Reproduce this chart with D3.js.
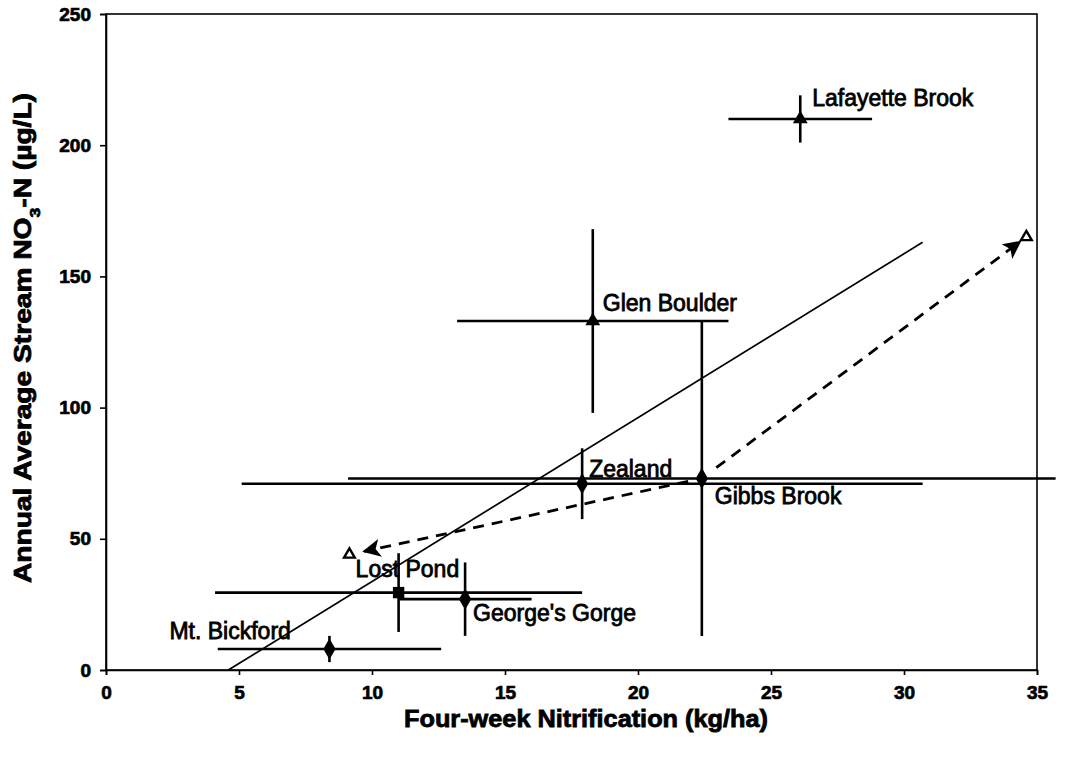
<!DOCTYPE html>
<html>
<head>
<meta charset="utf-8">
<script src="https://cdn.jsdelivr.net/npm/d3@7"></script>
<style>
  html, body { margin: 0; padding: 0; background: #fff; }
  svg { display: block; }
  text { font-family: "Liberation Sans", Arial, Helvetica, sans-serif; fill: #000; }
</style>
</head>
<body>
<svg id="chart" width="1078" height="759"></svg>
<script>
// Watershed sites: nitrification vs. stream nitrate
const sites      = ["Mt. Bickford", "Lost Pond", "George's Gorge", "Zealand", "Gibbs Brook", "Glen Boulder", "Lafayette Brook"];
const nitrif     = [8.4, 11.0, 13.5, 17.9, 22.4, 18.3, 26.1];   // kg/ha
const nitrifErr  = [4.2, 6.9, 2.5, 12.8, 13.3, 5.1, 2.7];
const nitrate    = [8, 29.5, 27, 71, 73, 133, 210];             // µg/L
const nitrateErr = [5, 15, 14, 13.5, 60, 35, 9];
const shapes     = ["diamond", "square", "diamond", "diamond", "diamond", "triangle", "triangle"];

// Linear trend endpoints
const trendX = [4.6, 30.7];
const trendY = [0, 163];

// Projected values (open triangles) reached from Gibbs Brook
const projX = [9.15, 34.6];
const projY = [44, 165];

const xTicks = [0, 5, 10, 15, 20, 25, 30, 35];
const yTicks = [0, 50, 100, 150, 200, 250];

const svg = d3.select("#chart");
const m = { left: 106, right: 1037, top: 14, bottom: 670 };

const x = d3.scaleLinear().domain([0, 35]).range([m.left, m.right]);
const y = d3.scaleLinear().domain([0, 250]).range([m.bottom, m.top]);

// Plot frame
svg.append("rect")
  .attr("x", m.left).attr("y", m.top)
  .attr("width", m.right - m.left).attr("height", m.bottom - m.top)
  .attr("fill", "none").attr("stroke", "#000").attr("stroke-width", 1.6);

// Axes
const xAxis = svg.append("g").attr("transform", `translate(0,${m.bottom})`)
  .call(d3.axisBottom(x).tickValues(xTicks).tickSize(5).tickPadding(11).tickFormat(d3.format("d")));
const yAxis = svg.append("g").attr("transform", `translate(${m.left},0)`)
  .call(d3.axisLeft(y).tickValues(yTicks).tickSize(6).tickPadding(9).tickFormat(d3.format("d")));
[xAxis, yAxis].forEach(g => {
  g.select(".domain").attr("stroke", "#000").attr("stroke-width", 1.6);
  g.selectAll(".tick line").attr("stroke", "#000").attr("stroke-width", 1.6);
  g.selectAll(".tick text")
    .style("font-family", '"Liberation Sans", Arial, sans-serif')
    .style("font-size", "19px").style("font-weight", "bold")
    .attr("fill", "#000").attr("stroke", "#000").attr("stroke-width", 0.7);
});

// Axis titles
svg.append("text")
  .attr("x", 586).attr("y", 727)
  .attr("text-anchor", "middle")
  .attr("textLength", 364).attr("lengthAdjust", "spacingAndGlyphs")
  .style("font-size", "24px").style("font-weight", "bold")
  .attr("stroke", "#000").attr("stroke-width", 0.8)
  .text("Four-week Nitrification (kg/ha)");

const yTitle = svg.append("text")
  .attr("transform", "translate(31,338) rotate(-90)")
  .attr("text-anchor", "middle")
  .attr("textLength", 490).attr("lengthAdjust", "spacingAndGlyphs")
  .style("font-size", "24px").style("font-weight", "bold")
  .attr("stroke", "#000").attr("stroke-width", 0.8);
yTitle.append("tspan").text("Annual Average Stream NO");
yTitle.append("tspan").attr("baseline-shift", "sub").style("font-size", "15px").text("3");
yTitle.append("tspan").text("-N (\u00b5g/L)");

// Trend line
svg.append("line")
  .attr("x1", x(trendX[0])).attr("y1", y(trendY[0]))
  .attr("x2", x(trendX[1])).attr("y2", y(trendY[1]))
  .attr("stroke", "#000").attr("stroke-width", 1.7);

// Arrow marker
svg.append("defs").append("marker")
  .attr("id", "arrow")
  .attr("viewBox", "0 0 10 10").attr("refX", 9).attr("refY", 5)
  .attr("markerWidth", 6.5).attr("markerHeight", 6.5).attr("markerUnits", "strokeWidth")
  .attr("orient", "auto")
  .append("path").attr("d", "M0,0 L10,5 L0,10 L2.5,5 Z").attr("fill", "#000");

// Dashed arrows from Gibbs Brook toward projected points
const gi = sites.indexOf("Gibbs Brook");
const gaps = [[14, 15], [18, 8]];
projX.forEach((px, i) => {
  const x0 = x(nitrif[gi]), y0 = y(nitrate[gi]);
  const x1 = x(px), y1 = y(projY[i]);
  const dx = x1 - x0, dy = y1 - y0, len = Math.hypot(dx, dy);
  svg.append("line")
    .attr("x1", x0 + dx / len * gaps[i][0]).attr("y1", y0 + dy / len * gaps[i][0])
    .attr("x2", x1 - dx / len * gaps[i][1]).attr("y2", y1 - dy / len * gaps[i][1])
    .attr("stroke", "#000").attr("stroke-width", 2.8)
    .attr("stroke-dasharray", "11,8")
    .attr("marker-end", "url(#arrow)");
});

// Open triangles for projected points
svg.selectAll("path.proj").data(projX).enter().append("path")
  .attr("class", "proj")
  .attr("transform", (d, i) => `translate(${x(d)},${y(projY[i])})`)
  .attr("d", d3.symbol(d3.symbolTriangle, 50)())
  .attr("fill", "#fff").attr("stroke", "#000").attr("stroke-width", 2.4);

// Error bars
const idx = d3.range(sites.length);
svg.selectAll("line.xerr").data(idx).enter().append("line")
  .attr("class", "xerr")
  .attr("x1", i => x(nitrif[i] - nitrifErr[i])).attr("x2", i => x(nitrif[i] + nitrifErr[i]))
  .attr("y1", i => y(nitrate[i])).attr("y2", i => y(nitrate[i]))
  .attr("stroke", "#000").attr("stroke-width", 2.6);
svg.selectAll("line.yerr").data(idx).enter().append("line")
  .attr("class", "yerr")
  .attr("x1", i => x(nitrif[i])).attr("x2", i => x(nitrif[i]))
  .attr("y1", i => y(nitrate[i] - nitrateErr[i])).attr("y2", i => y(nitrate[i] + nitrateErr[i]))
  .attr("stroke", "#000").attr("stroke-width", 2.6);

// Site markers
const symbolFor = { diamond: [d3.symbolDiamond, 130], square: [d3.symbolSquare, 130], triangle: [d3.symbolTriangle, 95] };
svg.selectAll("path.site").data(idx).enter().append("path")
  .attr("class", "site")
  .attr("transform", i => `translate(${x(nitrif[i])},${y(nitrate[i])})`)
  .attr("d", i => d3.symbol(symbolFor[shapes[i]][0], symbolFor[shapes[i]][1])())
  .attr("fill", "#000");

// Site labels (offsets in pixels from the marker)
const labelOffset = {
  "Mt. Bickford":    [-160, -10],
  "Lost Pond":       [-43, -16],
  "George's Gorge":  [8, 22],
  "Zealand":         [7, -7],
  "Gibbs Brook":     [13, 26],
  "Glen Boulder":    [10, -10],
  "Lafayette Brook": [12, -13]
};
svg.selectAll("text.site").data(idx).enter().append("text")
  .attr("class", "site")
  .attr("x", i => x(nitrif[i]) + labelOffset[sites[i]][0])
  .attr("y", i => y(nitrate[i]) + labelOffset[sites[i]][1])
  .style("font-size", "23px")
  .attr("stroke", "#000").attr("stroke-width", 0.8)
  .text(i => sites[i]);
</script>
</body>
</html>
